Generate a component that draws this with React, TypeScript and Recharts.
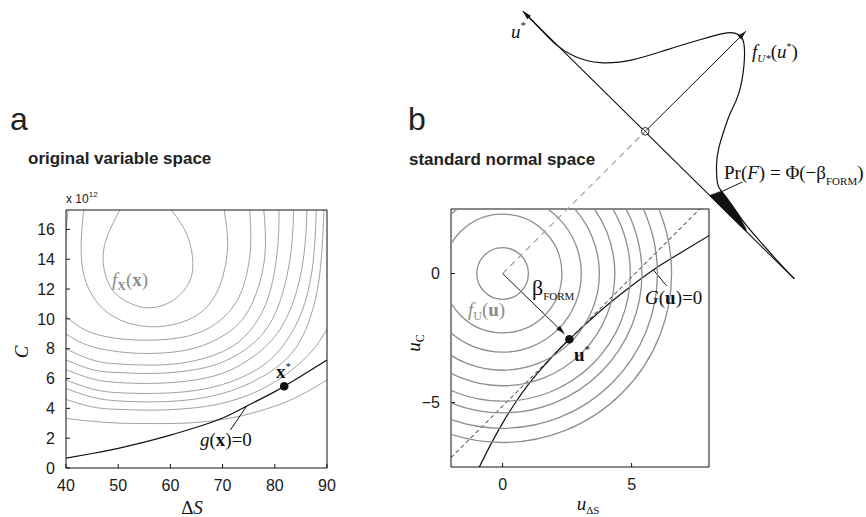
import React from 'react'
import { ComposedChart, Line, Scatter, Area, XAxis, YAxis, ReferenceLine } from 'recharts'

type Pair = [number, number]

// ---------- panel a: original variable space (C in units of 10^12) ----------
const dsDomain: Pair = [40, 90]
const cDomain: Pair = [0, 17.3]
const dsTicks = [40, 50, 60, 70, 80, 90]
const cTicks = [0, 2, 4, 6, 8, 10, 12, 14, 16]

// density contours f_X(x), innermost first
const fxContours: Pair[][] = [
  [[51.3, 17.9], [50.3, 17.3], [48.1, 15.7], [47.1, 13.95], [48.5, 12.15], [51.7, 11.15], [56.0, 10.74], [60.6, 11.26], [63.5, 12.38], [64.3, 13.72], [63.1, 15.7], [60.2, 17.3], [59.3, 17.9]],
  [[43.6, 17.9], [43.4, 17.3], [42.95, 15.5], [43.0, 13.9], [43.8, 12.5], [46.2, 11.0], [50.4, 9.92], [56.0, 9.47], [61.9, 9.74], [66.4, 10.6], [69.2, 12.0], [70.7, 13.9], [70.9, 15.7], [70.3, 17.3], [70.1, 17.9]],
  [[40.6, 17.9], [40.4, 17.3], [40.1, 16.2], [39.9, 15.3]],
  [[39.5, 10.4], [40, 10.2], [43.4, 9.3], [49.1, 8.72], [56, 8.57], [63.2, 8.83], [68.9, 9.72], [72.9, 11.3], [74.8, 13.3], [75.4, 15.3], [75.2, 17.3], [75.1, 17.9]],
  [[39.5, 9.15], [40, 9.0], [44, 8.25], [50, 7.8], [56, 7.68], [63, 7.9], [69, 8.65], [74, 10.05], [77, 12.3], [78.2, 14.8], [77.9, 17.3], [77.8, 17.9]],
  [[39.5, 8.12], [40, 8.0], [45, 7.25], [50, 6.98], [56, 6.9], [63, 7.08], [70, 7.8], [75, 9.1], [78.5, 11.2], [80.3, 14.0], [80.8, 16.5], [80.7, 17.9]],
  [[39.5, 7.35], [40, 7.25], [45, 6.6], [50, 6.4], [56, 6.34], [63, 6.5], [70, 7.1], [76, 8.4], [80, 10.3], [82.4, 13.0], [83.4, 15.6], [83.6, 17.9]],
  [[39.5, 6.7], [40, 6.6], [45, 5.98], [50, 5.73], [56, 5.67], [63, 5.82], [70, 6.35], [76, 7.5], [81, 9.3], [84.3, 12.0], [85.8, 15.0], [86.2, 17.9]],
  [[39.5, 6.0], [40, 5.9], [45, 5.3], [50, 5.05], [56, 5.0], [63, 5.12], [70, 5.6], [77, 6.7], [82, 8.4], [85.5, 10.8], [87.4, 14.0], [88.0, 17.9]],
  [[39.5, 5.42], [40, 5.33], [45, 4.75], [50, 4.5], [56, 4.43], [63, 4.55], [70, 5.0], [77, 6.0], [83, 7.6], [86.5, 9.8], [88.6, 13.0], [89.5, 17.9]],
  [[39.5, 4.68], [40, 4.6], [45, 4.1], [50, 3.93], [56, 3.88], [63, 3.98], [70, 4.35], [77, 5.2], [83, 6.5], [87.5, 8.0], [90.5, 9.6]],
  [[39.5, 3.36], [40, 3.32], [48, 3.05], [56, 2.98], [64, 3.03], [72, 3.38], [78, 3.92], [84, 4.72], [90, 5.9], [90.5, 6.0]],
]
const gLimitState: Pair[] = [[40, 0.66], [45, 0.97], [50, 1.32], [55, 1.73], [60, 2.2], [65, 2.73], [70, 3.35], [75, 4.22], [80, 5.12], [85, 6.15], [90, 7.24]]
const xStar: Pair[] = [[81.8, 5.48]]
const gLeader: Pair[] = [[71.5, 2.55], [74.6, 4.15]]

// ---------- panel b: standard normal space ----------
const uxDomain: Pair = [-2, 8]
const ucDomain: Pair = [-7.5, 2.5]
const uxTicks = [0, 5]
const ucTicks = [-5, 0]
const fuRadii = [1.0, 2.3, 3.05, 3.75, 4.35, 4.95, 5.4, 6.0, 6.55]
const gULimitState: Pair[] = [[-0.95, -7.6], [-0.5, -6.7], [0, -5.8], [0.5, -5.0], [1.0, -4.3], [1.5, -3.7], [2.0, -3.14], [2.59, -2.55], [3.2, -1.98], [4.0, -1.27], [4.9, -0.55], [5.84, 0.14], [6.9, 0.8], [8.05, 1.5]]
const tangentU: Pair[] = [[-2, -7.14], [7.64, 2.5]]
const betaArrow: Pair[] = [[0, 0], [2.4, -2.34]]
const uStar: Pair[] = [[2.59, -2.55]]
const gULeader: Pair[] = [[5.84, 0.14], [6.36, -0.48]]

// projected density f_U*(u*) drawn in the same u coordinates
const projOrigin: Pair = [5.53, 5.51]
const uStarAxis: Pair[] = [[11.31, -0.21], [0.78, 10.17]]
const densityAxis: Pair[] = [[5.53, 5.51], [9.43, 9.39]]
const densityCurve: Pair[] = [
  [0.95, 10.0], [1.45, 9.49], [2.07, 8.87], [2.81, 8.41], [3.79, 8.17], [5.07, 8.29], [6.39, 8.68], [7.68, 9.07],
  [8.53, 9.3], [9.0, 9.32], [9.27, 9.14], [9.37, 8.76], [9.35, 8.02], [9.16, 7.0], [8.88, 6.34], [8.72, 5.95],
  [8.39, 4.91], [8.29, 4.14], [8.33, 3.49], [8.48, 3.19], [8.84, 2.72], [9.36, 1.98], [10.01, 1.21], [10.6, 0.55], [11.3, -0.2],
]
// failure tail: x, lower (u* axis), upper (density curve)
const failTail: [number, number, number][] = [[8.04, 3.01, 3.03], [8.48, 2.58, 3.19], [8.84, 2.22, 2.72], [9.16, 1.91, 2.26], [9.45, 1.62, 1.7]]
const prLeader: Pair[] = [[8.46, 3.16], [9.3, 3.55]]

// ---------- layout ----------
const LBOX = { left: 66, top: 210, width: 261, height: 258 }
const RBOX = { left: 451, top: 209, size: 258 }
const U_PX = RBOX.size / (uxDomain[1] - uxDomain[0])
const ORIGIN_X = RBOX.left - uxDomain[0] * U_PX
const ORIGIN_Y = RBOX.top + ucDomain[1] * U_PX
const OV = { left: 440, width: 426, height: 517 }
const ovXDomain: Pair = [(OV.left - ORIGIN_X) / U_PX, (OV.left + OV.width - ORIGIN_X) / U_PX]
const ovYDomain: Pair = [(ORIGIN_Y - OV.height) / U_PX, ORIGIN_Y / U_PX]

const sans = '"Liberation Sans", Arial, sans-serif'
const serif = '"Liberation Serif", "Times New Roman", serif'
const ink = '#111'
const tickStyle = { fontSize: 16, fill: '#1a1a1a', fontFamily: sans }
const fmtMinus = (v: number) => (v < 0 ? `\u2212${-v}` : `${v}`)
const pts = (arr: Pair[]) => arr.map(([x, y]) => ({ x, y }))
const seg = (arr: Pair[]) => arr.map(([x, y]) => ({ x, y })) as any

function Ring(props: any) {
  const { cx, cy, payload } = props
  return <circle cx={cx} cy={cy} r={payload.r * U_PX} fill="none" stroke="#8e8e8e" strokeWidth={1.3} />
}
function Dot(props: any) {
  return <circle cx={props.cx} cy={props.cy} r={4.3} fill={ink} />
}
function ArrowHead(props: any) {
  const { cx, cy, payload } = props
  return <polygon points="0,0 -9,-2.6 -9,2.6" fill={ink} transform={`translate(${cx},${cy}) rotate(${payload.angle})`} />
}
function CircledCross(props: any) {
  const { cx, cy } = props
  return (
    <g>
      <circle cx={cx} cy={cy} r={3.8} fill="#fff" stroke={ink} strokeWidth={0.9} />
      <line x1={cx - 2.5} y1={cy - 2.5} x2={cx + 2.5} y2={cy + 2.5} stroke={ink} strokeWidth={0.8} />
      <line x1={cx - 2.5} y1={cy + 2.5} x2={cx + 2.5} y2={cy - 2.5} stroke={ink} strokeWidth={0.8} />
    </g>
  )
}

// box frame: bottom/left axes carry labels, top/right axes only inward ticks
function boxAxes(xDomain: Pair, xTicks: number[], yDomain: Pair, yTicks: number[], yFmt?: (v: number) => string) {
  return [
    <XAxis key="xb" type="number" dataKey="x" domain={xDomain} ticks={xTicks} allowDataOverflow height={30} tickSize={-4} tickMargin={16} tick={tickStyle} stroke={ink} />,
    <XAxis key="xt" xAxisId="top" orientation="top" type="number" domain={xDomain} ticks={xTicks} allowDataOverflow height={1} tickSize={-4} tick={false} stroke={ink} />,
    <YAxis key="yl" type="number" dataKey="y" domain={yDomain} ticks={yTicks} allowDataOverflow width={40} tickSize={-4} tickMargin={15} tick={tickStyle} tickFormatter={yFmt} stroke={ink} />,
    <YAxis key="yr" yAxisId="right" orientation="right" type="number" domain={yDomain} ticks={yTicks} allowDataOverflow width={1} tickSize={-4} tick={false} stroke={ink} />,
  ]
}

function PanelA() {
  const w = 360
  return (
    <div style={{ position: 'absolute', left: 0, top: 0 }}>
      <ComposedChart width={w} height={517} margin={{ top: LBOX.top - 1, right: w - LBOX.left - LBOX.width - 1, bottom: 517 - LBOX.top - LBOX.height - 30, left: LBOX.left - 40 }}>
        {boxAxes(dsDomain, dsTicks, cDomain, cTicks)}
        {fxContours.map((c, i) => (
          <Line key={i} data={pts(c)} dataKey="y" type="natural" dot={false} activeDot={false} stroke="#a2a2a2" strokeWidth={1} isAnimationActive={false} />
        ))}
        <Line data={pts(gLimitState)} dataKey="y" type="natural" dot={false} activeDot={false} stroke={ink} strokeWidth={1.2} isAnimationActive={false} />
        <ReferenceLine segment={seg(gLeader)} stroke={ink} strokeWidth={1} ifOverflow="hidden" />
        <Scatter data={pts(xStar)} dataKey="y" shape={Dot} isAnimationActive={false} />
      </ComposedChart>
    </div>
  )
}

function PanelB() {
  const left = 400
  const w = 340
  return (
    <div style={{ position: 'absolute', left, top: 0 }}>
      <ComposedChart width={w} height={517} margin={{ top: RBOX.top - 1, right: left + w - RBOX.left - RBOX.size - 1, bottom: 517 - RBOX.top - RBOX.size - 30, left: RBOX.left - left - 40 }}>
        {boxAxes(uxDomain, uxTicks, ucDomain, ucTicks, fmtMinus)}
        <Scatter data={fuRadii.map((r) => ({ x: 0, y: 0, r }))} dataKey="y" shape={Ring} isAnimationActive={false} />
        <ReferenceLine segment={seg(tangentU)} stroke={ink} strokeWidth={1} strokeDasharray="4 3" ifOverflow="hidden" />
        <Line data={pts(gULimitState)} dataKey="y" type="natural" dot={false} activeDot={false} stroke={ink} strokeWidth={1.2} isAnimationActive={false} />
        <ReferenceLine segment={seg(betaArrow)} stroke={ink} strokeWidth={1} ifOverflow="hidden" />
        <ReferenceLine segment={seg(gULeader)} stroke={ink} strokeWidth={1} ifOverflow="hidden" />
        <Scatter data={[{ x: betaArrow[1][0], y: betaArrow[1][1], angle: 45 }]} dataKey="y" shape={ArrowHead} isAnimationActive={false} />
        <Scatter data={pts(uStar)} dataKey="y" shape={Dot} isAnimationActive={false} />
      </ComposedChart>
    </div>
  )
}

function Projection() {
  const tail = failTail.map(([x, lo, hi]) => ({ x, band: [lo, hi] }))
  return (
    <div style={{ position: 'absolute', left: OV.left, top: 0, pointerEvents: 'none' }}>
      <ComposedChart width={OV.width} height={OV.height} data={tail} margin={{ top: 0, right: 0, bottom: 0, left: 0 }}>
        <XAxis hide type="number" dataKey="x" domain={ovXDomain} allowDataOverflow />
        <YAxis hide type="number" dataKey="y" domain={ovYDomain} allowDataOverflow />
        <ReferenceLine segment={seg([[0, 0], projOrigin])} stroke="#a0a0a0" strokeWidth={1.2} strokeDasharray="6 5" ifOverflow="visible" />
        <ReferenceLine segment={seg(uStarAxis)} stroke={ink} strokeWidth={1.1} ifOverflow="visible" />
        <ReferenceLine segment={seg(densityAxis)} stroke={ink} strokeWidth={1} ifOverflow="visible" />
        <Area dataKey="band" type="linear" fill={ink} fillOpacity={1} stroke={ink} strokeWidth={0.6} dot={false} activeDot={false} isAnimationActive={false} />
        <Line data={pts(densityCurve)} dataKey="y" type="natural" dot={false} activeDot={false} stroke={ink} strokeWidth={1.2} isAnimationActive={false} />
        <ReferenceLine segment={seg(prLeader)} stroke={ink} strokeWidth={1} ifOverflow="visible" />
        <Scatter
          data={[
            { x: uStarAxis[1][0], y: uStarAxis[1][1], angle: -135 },
            { x: densityAxis[1][0], y: densityAxis[1][1], angle: -45 },
          ]}
          dataKey="y"
          shape={ArrowHead}
          isAnimationActive={false}
        />
        <Scatter data={[{ x: projOrigin[0], y: projOrigin[1] }]} dataKey="y" shape={CircledCross} isAnimationActive={false} />
      </ComposedChart>
    </div>
  )
}

function Labels() {
  const base = { fontFamily: serif, fontSize: 19, fill: ink }
  const gray = { ...base, fill: '#8a8a8a' }
  return (
    <svg width={866} height={517} style={{ position: 'absolute', left: 0, top: 0, pointerEvents: 'none' }}>
      <text x={10} y={130} fontFamily={sans} fontSize={32} fill="#222">a</text>
      <text x={408} y={130} fontFamily={sans} fontSize={32} fill="#222">b</text>
      <text x={28} y={164} fontFamily={sans} fontSize={17} fontWeight="bold" fill="#222">original variable space</text>
      <text x={409} y={165} fontFamily={sans} fontSize={17} fontWeight="bold" fill="#222">standard normal space</text>
      <text x={66} y={203} fontFamily={sans} fontSize={12} fill="#222">
        x 10<tspan dy={-6} fontSize={8}>12</tspan>
      </text>

      <text {...base} transform="translate(28,352) rotate(-90)" textAnchor="middle" fontStyle="italic">C</text>
      <text {...base} x={192} y={514} textAnchor="middle">
        Δ<tspan fontStyle="italic">S</tspan>
      </text>
      <text {...gray} x={112} y={286}>
        <tspan fontStyle="italic">f</tspan>
        <tspan fontSize={12} dy={4} fontWeight="bold">X</tspan>
        <tspan dy={-4}>(</tspan>
        <tspan fontWeight="bold">x</tspan>)
      </text>
      <text {...base} x={200} y={446}>
        <tspan fontStyle="italic">g</tspan>(<tspan fontWeight="bold">x</tspan>)=0
      </text>
      <text {...base} x={276} y={378} fontWeight="bold">
        x<tspan dy={-8} fontSize={11} fontWeight="normal">*</tspan>
      </text>

      <text {...base} transform="translate(420,343) rotate(-90)" textAnchor="middle">
        <tspan fontStyle="italic">u</tspan>
        <tspan fontSize={12} dy={4}>C</tspan>
      </text>
      <text {...base} x={588} y={510} textAnchor="middle">
        <tspan fontStyle="italic">u</tspan>
        <tspan fontSize={11} dy={4}>ΔS</tspan>
      </text>
      <text {...gray} x={468} y={316}>
        <tspan fontStyle="italic">f</tspan>
        <tspan fontSize={12} dy={4}>U</tspan>
        <tspan dy={-4}>(</tspan>
        <tspan fontWeight="bold">u</tspan>)
      </text>
      <text {...base} x={532} y={295} fontSize={22}>
        β<tspan fontSize={11} dy={5}>FORM</tspan>
      </text>
      <text {...base} x={574} y={361} fontWeight="bold">
        u<tspan dy={-8} fontSize={11} fontWeight="normal">*</tspan>
      </text>
      <text {...base} x={645} y={304}>
        <tspan fontStyle="italic">G</tspan>(<tspan fontWeight="bold">u</tspan>)=0
      </text>

      <text {...base} x={511} y={38} fontStyle="italic">
        u<tspan dy={-9} fontSize={11} fontStyle="normal">*</tspan>
      </text>
      <text {...base} x={752} y={58}>
        <tspan fontStyle="italic">f</tspan>
        <tspan fontSize={11} dy={4} fontStyle="italic">U*</tspan>
        <tspan dy={-4}>(</tspan>
        <tspan fontStyle="italic">u</tspan>
        <tspan dy={-8} fontSize={10}>*</tspan>
        <tspan dy={8}>)</tspan>
      </text>
      <text {...base} x={724} y={179}>
        Pr(<tspan fontStyle="italic">F</tspan>) = Φ(−β<tspan fontSize={11} dy={6}>FORM</tspan>
        <tspan dy={-6}>)</tspan>
      </text>
    </svg>
  )
}

export default function App() {
  return (
    <div style={{ position: 'absolute', left: 0, top: 0, width: 866, height: 517, background: '#fff', overflow: 'hidden' }}>
      <PanelA />
      <PanelB />
      <Projection />
      <Labels />
    </div>
  )
}
